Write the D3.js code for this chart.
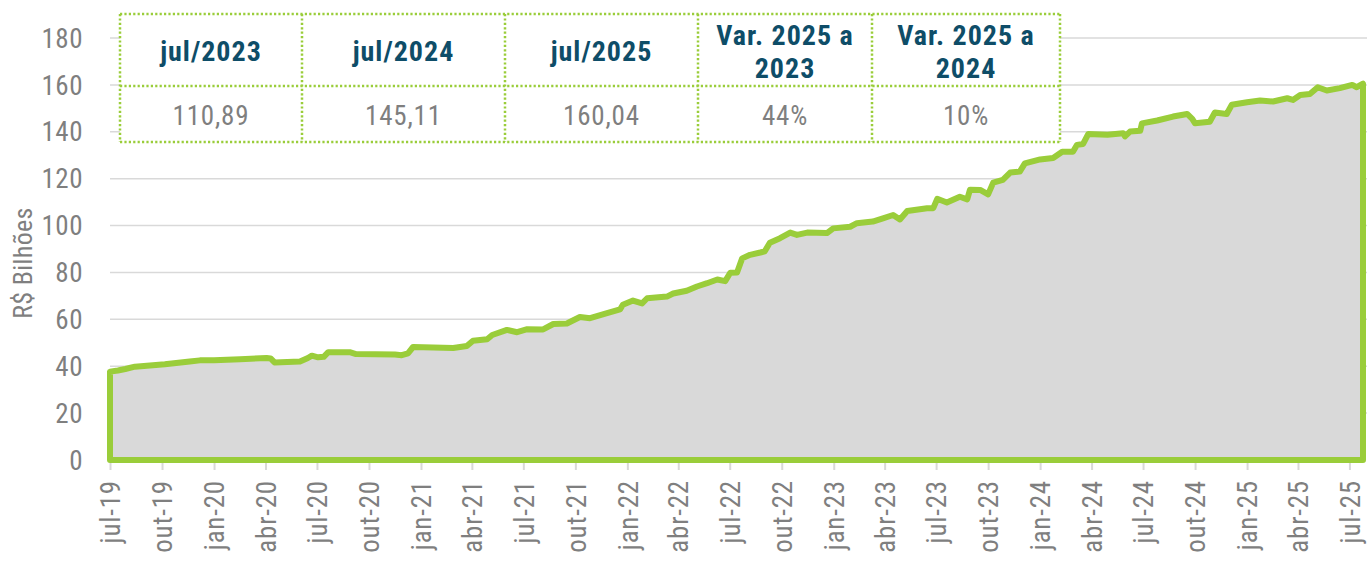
<!DOCTYPE html>
<html>
<head>
<meta charset="utf-8">
<script src="https://cdn.jsdelivr.net/npm/d3@7"></script>
<style>
  body { margin: 0; background: #fff; }
  svg { display: block; }
  text { font-family: "Liberation Sans Narrow", "Roboto Condensed", "DejaVu Sans Condensed", sans-serif; }
</style>
</head>
<body>
<div id="chart"></div>
<script>
// serie (R$ bilhoes)
const dates = [
  "2019-07-01","2019-07-15","2019-07-28","2019-08-14","2019-10-06","2019-11-19","2019-12-07","2020-01-01",
  "2020-02-16","2020-04-03","2020-04-10","2020-04-17","2020-06-01","2020-06-15","2020-06-22","2020-07-03",
  "2020-07-13","2020-07-21","2020-08-28","2020-09-08","2020-11-16","2020-11-28","2020-12-09","2020-12-18",
  "2021-02-27","2021-03-23","2021-04-03","2021-04-28","2021-05-07","2021-06-02","2021-06-20","2021-07-08",
  "2021-08-05","2021-08-23","2021-09-16","2021-10-09","2021-10-27","2021-11-26","2021-12-19","2021-12-24",
  "2022-01-11","2022-01-27","2022-02-05","2022-03-12","2022-03-23","2022-04-16","2022-05-04","2022-05-22",
  "2022-06-09","2022-06-23","2022-07-02","2022-07-14","2022-07-23","2022-08-06","2022-08-24","2022-09-01",
  "2022-09-10","2022-09-28","2022-10-16","2022-10-28","2022-11-15","2022-12-20","2022-12-31","2023-01-30",
  "2023-02-11","2023-03-11","2023-03-29","2023-04-16","2023-04-28","2023-05-11","2023-06-15","2023-06-26",
  "2023-07-03","2023-07-20","2023-08-12","2023-08-25","2023-08-30","2023-09-17","2023-10-01","2023-10-10",
  "2023-10-27","2023-11-09","2023-11-26","2023-12-05","2024-01-01","2024-01-24","2024-02-09","2024-02-28",
  "2024-03-06","2024-03-17","2024-03-26","2024-04-29","2024-05-27","2024-05-30","2024-06-08","2024-06-26",
  "2024-06-29","2024-07-26","2024-08-23","2024-09-17","2024-09-26","2024-10-01","2024-10-27","2024-11-05",
  "2024-11-26","2024-12-05","2025-01-01","2025-01-24","2025-02-16","2025-03-13","2025-03-23","2025-04-05",
  "2025-04-22","2025-05-06","2025-05-22","2025-06-14","2025-07-06","2025-07-14","2025-07-25"
];
const values = [
  37.7, 38.2, 38.8, 39.8, 40.8, 42.0, 42.5, 42.5,
  43.0, 43.5, 43.3, 41.6, 42.0, 43.5, 44.5, 43.8,
  44.0, 46.0, 46.0, 45.2, 45.0, 44.7, 45.5, 48.2,
  47.8, 48.6, 50.9, 51.5, 53.3, 55.5, 54.5, 55.8,
  55.7, 58.0, 58.2, 61.0, 60.5, 62.6, 64.2, 66.2,
  68.0, 66.8, 69.0, 69.7, 71.0, 72.2, 74.0, 75.4,
  77.0, 76.3, 79.9, 80.0, 86.0, 87.5, 88.5, 89.0,
  92.7, 94.6, 97.0, 96.0, 97.0, 96.8, 98.8, 99.5,
  101.0, 101.7, 103.1, 104.5, 102.6, 106.2, 107.4, 107.4,
  111.4, 109.8, 112.3, 111.2, 115.3, 115.2, 113.3, 118.3,
  119.5, 122.6, 123.0, 126.5, 128.2, 128.8, 131.5, 131.5,
  134.4, 134.8, 139.0, 138.7, 139.4, 138.0, 140.1, 140.4,
  143.6, 144.8, 146.5, 147.6, 145.5, 143.6, 144.3, 148.2,
  147.6, 151.5, 152.6, 153.3, 152.9, 154.3, 153.6, 155.7,
  156.1, 159.0, 157.6, 158.6, 160.0, 159.0, 160.5
];
const yTicks = [0, 20, 40, 60, 80, 100, 120, 140, 160, 180];
const monthNames = ["jan","fev","mar","abr","mai","jun","jul","ago","set","out","nov","dez"];
const tableHeaders = [["jul/2023"], ["jul/2024"], ["jul/2025"], ["Var. 2025 a", "2023"], ["Var. 2025 a", "2024"]];
const tableValues = ["110,89", "145,11", "160,04", "44%", "10%"];

const width = 1367, height = 564;
const green = "#9acd3a", fillGray = "#d9d9d9", gridGray = "#d9d9d9",
      textGray = "#7f7f7f", teal = "#0e4d68";

const parse = d3.timeParse("%Y-%m-%d");
const series = dates.map((d, i) => ({ date: parse(d), value: values[i] }));

const svg = d3.select("#chart").append("svg")
    .attr("width", width)
    .attr("height", height);

const x = d3.scaleTime()
    .domain([parse("2019-07-01"), parse("2025-07-25")])
    .range([110, 1363]);
const y = d3.scaleLinear()
    .domain([0, 180])
    .range([460, 38]);

// grid
svg.append("g")
    .selectAll("line")
    .data(yTicks.filter(v => v > 0))
    .join("line")
    .attr("x1", 110).attr("x2", width)
    .attr("y1", d => y(d)).attr("y2", d => y(d))
    .attr("stroke", gridGray)
    .attr("stroke-width", 1.5);

// eixo y
svg.append("g")
    .selectAll("text")
    .data(yTicks)
    .join("text")
    .attr("x", 83)
    .attr("y", d => y(d))
    .attr("dy", "0.36em")
    .attr("text-anchor", "end")
    .attr("fill", textGray)
    .attr("font-size", 27)
    .attr("letter-spacing", 0.5)
    .text(d => d);

svg.append("text")
    .attr("transform", `translate(32,${y(84)}) rotate(-90)`)
    .attr("text-anchor", "middle")
    .attr("fill", textGray)
    .attr("font-size", 26)
    .attr("letter-spacing", 0.3)
    .text("R$ Bilhões");

// eixo x
const quarterTicks = d3.timeMonth.every(3).range(parse("2019-07-01"), parse("2025-07-02"));
const xAxis = svg.append("g")
    .attr("transform", `translate(0,${y(0)})`)
    .call(d3.axisBottom(x)
        .tickValues(quarterTicks)
        .tickSize(10)
        .tickSizeOuter(0)
        .tickFormat(d => `${monthNames[d.getMonth()]}-${d3.timeFormat("%y")(d)}`));
xAxis.select(".domain").remove();
xAxis.selectAll(".tick line").attr("stroke", gridGray).attr("stroke-width", 2);
xAxis.selectAll(".tick text")
    .attr("fill", textGray)
    .attr("font-size", 27)
    .attr("letter-spacing", 0.8)
    .attr("text-anchor", "end")
    .attr("transform", "rotate(-90)")
    .attr("x", -20)
    .attr("y", 0)
    .attr("dy", "0.36em");

// area
const area = d3.area()
    .x(d => x(d.date))
    .y0(y(0))
    .y1(d => y(d.value));

svg.append("path")
    .datum(series)
    .attr("d", area)
    .attr("fill", fillGray)
    .attr("stroke", green)
    .attr("stroke-width", 6)
    .attr("stroke-linejoin", "round");

// tabela
const colX = [120, 302, 505, 698, 872, 1060];
const rowY = [14, 86, 142];

const table = svg.append("g");
table.append("rect")
    .attr("x", colX[0]).attr("y", rowY[0])
    .attr("width", colX[5] - colX[0]).attr("height", rowY[2] - rowY[0])
    .attr("fill", "#fff");

const dotted = (x1, y1, x2, y2) => table.append("line")
    .attr("x1", x1).attr("y1", y1).attr("x2", x2).attr("y2", y2)
    .attr("stroke", green)
    .attr("stroke-width", 2.5)
    .attr("stroke-dasharray", "2.2,2.2");

rowY.forEach(ry => dotted(colX[0], ry, colX[5], ry));
colX.forEach(cx => dotted(cx, rowY[0], cx, rowY[2]));

tableHeaders.forEach((lines, i) => {
    const cx = (colX[i] + colX[i + 1]) / 2;
    const t = table.append("text")
        .attr("x", cx)
        .attr("text-anchor", "middle")
        .attr("fill", teal)
        .attr("font-weight", "bold")
        .attr("font-size", 28)
        .attr("letter-spacing", 1);
    if (lines.length === 1) {
        t.append("tspan").attr("x", cx).attr("y", 61).text(lines[0]);
    } else {
        t.append("tspan").attr("x", cx).attr("y", 45).text(lines[0]);
        t.append("tspan").attr("x", cx).attr("y", 78).text(lines[1]);
    }
});

table.selectAll(".val")
    .data(tableValues)
    .join("text")
    .attr("class", "val")
    .attr("x", (d, i) => (colX[i] + colX[i + 1]) / 2)
    .attr("y", 125)
    .attr("text-anchor", "middle")
    .attr("fill", textGray)
    .attr("font-size", 27)
    .attr("letter-spacing", 0.8)
    .text(d => d);
</script>
</body>
</html>
